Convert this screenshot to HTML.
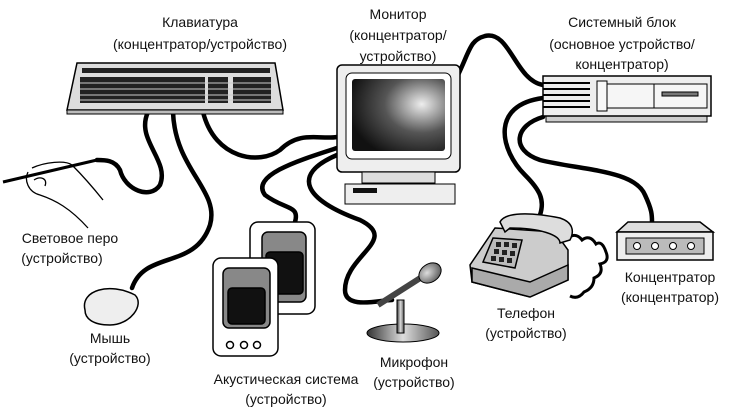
<!DOCTYPE html>
<html><head><meta charset="utf-8"><style>
html,body{margin:0;padding:0;background:#fff;width:733px;height:414px;overflow:hidden}
text{font-family:"Liberation Sans","DejaVu Sans",sans-serif;font-size:14px;fill:#111;text-anchor:middle}
</style></head><body>
<svg width="733" height="414" viewBox="0 0 733 414" xmlns="http://www.w3.org/2000/svg">
<defs>
<radialGradient id="scr" cx="0.75" cy="0.35" r="0.8"><stop offset="0" stop-color="#eee"/><stop offset="0.5" stop-color="#555"/><stop offset="1" stop-color="#111"/></radialGradient>
<radialGradient id="mic" cx="0.4" cy="0.4" r="0.6"><stop offset="0" stop-color="#ddd"/><stop offset="1" stop-color="#666"/></radialGradient>
<linearGradient id="base" x1="0" x2="1"><stop offset="0" stop-color="#333"/><stop offset="0.5" stop-color="#ddd"/><stop offset="1" stop-color="#555"/></linearGradient>
</defs>
<g fill="none" stroke="#000" stroke-width="4.5" stroke-linecap="round">
<path d="M148,112 C135,140 170,160 160,185 C150,200 125,190 120,170 C115,160 105,160 97,160"/>
<path d="M173,112 C175,170 220,190 210,225 C195,270 145,250 132,288"/>
<path d="M203,112 C215,160 260,165 280,150 C300,130 320,140 337,137"/>
<path d="M337,148 C300,160 250,175 265,195 C285,210 300,205 295,222"/>
<path d="M337,155 C290,175 305,200 360,220 C400,240 345,255 345,290 C345,310 380,300 392,300"/>
<path d="M458,75 C470,50 470,40 485,36 C510,30 515,80 543,85"/>
<path d="M543,98 C490,105 500,150 525,175 C540,190 545,200 540,215"/>
<path d="M543,117 C515,125 510,150 540,160 C580,170 635,170 645,195 C652,210 652,215 652,222"/>
</g>
<path d="M568,238 q8,-6 14,2 q8,-6 14,4 q6,-4 10,8 q4,10 -6,12 q4,10 -6,14 q0,10 -10,14 q-6,8 -14,4" fill="none" stroke="#000" stroke-width="3"/>
<!-- keyboard -->
<path d="M77,63 L275,63 L283,110 L67,110 Z" fill="#ddd" stroke="#000" stroke-width="1.5"/>
<path d="M67,110 L283,110 L283,114 L67,114 Z" fill="#bbb" stroke="#000"/>
<rect x="82" y="68" width="188" height="5" fill="#222"/>
<rect x="80" y="77" width="125" height="26" fill="#222"/>
<rect x="208" y="77" width="20" height="26" fill="#222"/>
<rect x="233" y="77" width="38" height="26" fill="#222"/>
<g stroke="#ccc" stroke-width="1"><path d="M80,83 H271 M80,89 H271 M80,95 H271 M80,100 H271"/></g>
<!-- monitor -->
<rect x="337" y="65" width="123" height="107" rx="5" fill="#eee" stroke="#000" stroke-width="1.5"/>
<rect x="346" y="73" width="105" height="86" rx="6" fill="#fff" stroke="#000"/>
<rect x="352" y="79" width="93" height="72" rx="3" fill="url(#scr)"/>
<rect x="362" y="172" width="73" height="11" fill="#ddd" stroke="#000"/>
<rect x="345" y="184" width="110" height="20" fill="#eee" stroke="#000"/>
<rect x="353" y="188" width="24" height="5" fill="#111"/>
<!-- system unit -->
<rect x="546" y="110" width="161" height="12" fill="#ccc" stroke="#000"/>
<rect x="543" y="76" width="168" height="40" fill="#eee" stroke="#000" stroke-width="1.5"/>
<g stroke="#000" stroke-width="2"><path d="M543,83 H590 M543,89 H590 M543,95 H590 M543,101 H590 M543,107 H590"/></g>
<rect x="597" y="81" width="10" height="30" fill="#f8f8f8" stroke="#000"/>
<rect x="607" y="84" width="100" height="24" fill="#f6f6f6" stroke="#000"/>
<line x1="654" y1="84" x2="654" y2="108" stroke="#000"/>
<rect x="662" y="92" width="36" height="4" fill="#777" stroke="#000"/>
<!-- pen hand -->
<path d="M3,182 L97,160" stroke="#000" stroke-width="3"/>
<path d="M32,168 C45,162 65,160 72,165 C85,178 95,190 103,200 M28,172 C24,180 28,192 40,195 C55,200 70,208 88,228 M34,180 C40,176 48,178 45,186" fill="none" stroke="#000" stroke-width="1.3"/>
<!-- mouse -->
<path d="M85,310 C80,290 110,282 135,295 C145,305 130,325 110,325 C92,325 85,318 85,310 Z" fill="#eee" stroke="#000" stroke-width="1.5"/>
<!-- speakers -->
<g stroke="#000" stroke-width="1.5">
<rect x="250" y="222" width="65" height="92" rx="8" fill="#fff"/>
<rect x="262" y="232" width="44" height="70" rx="6" fill="#888"/>
<rect x="266" y="252" width="37" height="42" rx="4" fill="#111"/>
<rect x="213" y="258" width="65" height="98" rx="8" fill="#fff"/>
<rect x="223" y="268" width="47" height="60" rx="6" fill="#888"/>
<rect x="228" y="288" width="37" height="36" rx="4" fill="#111"/>
<circle cx="230" cy="345" r="3.5" fill="#fff"/><circle cx="244" cy="345" r="3.5" fill="#fff"/><circle cx="257" cy="345" r="3.5" fill="#fff"/>
</g>
<!-- mic -->
<ellipse cx="403" cy="333" rx="36" ry="9" fill="url(#base)" stroke="#000"/>
<rect x="397" y="300" width="7" height="33" fill="url(#base)" stroke="#000"/>
<path d="M378,305 L425,275" stroke="#444" stroke-width="6"/>
<ellipse cx="430" cy="273" rx="12" ry="9" transform="rotate(-35 430 273)" fill="url(#mic)" stroke="#000"/>
<!-- phone -->
<g stroke="#000" stroke-width="1.5">
<path d="M495,228 L555,232 L568,250 L568,280 L530,297 L472,282 L470,265 Z" fill="#ccc"/>
<path d="M472,268 L530,282 L568,265 L568,280 L530,297 L472,282 Z" fill="#aaa"/>
<path d="M500,222 C505,212 530,212 560,218 C572,222 575,230 570,240 L560,243 C560,235 540,228 510,228 L505,232 Z" fill="#ddd"/>
<path d="M493,238 L522,240 L515,268 L483,262 Z" fill="#bbb"/>
</g>
<g fill="#222"><rect x="496" y="242" width="5" height="5"/><rect x="504" y="242" width="5" height="5"/><rect x="512" y="243" width="5" height="5"/><rect x="494" y="249" width="5" height="5"/><rect x="502" y="250" width="5" height="5"/><rect x="510" y="251" width="5" height="5"/><rect x="491" y="256" width="5" height="5"/><rect x="499" y="257" width="5" height="5"/><rect x="507" y="258" width="5" height="5"/></g>
<!-- hub -->
<path d="M628,222 L700,222 L713,232 L617,232 Z" fill="#ddd" stroke="#000" stroke-width="1.5"/>
<rect x="617" y="232" width="96" height="28" fill="#eee" stroke="#000" stroke-width="1.5"/>
<rect x="626" y="238" width="78" height="16" fill="#bbb" stroke="#000"/>
<circle cx="637" cy="246" r="3.5" fill="#fff" stroke="#000"/><circle cx="655" cy="246" r="3.5" fill="#fff" stroke="#000"/><circle cx="673" cy="246" r="3.5" fill="#fff" stroke="#000"/><circle cx="691" cy="246" r="3.5" fill="#fff" stroke="#000"/>
<!-- labels -->
<text x="200" y="27">Клавиатура</text>
<text x="200" y="49">(концентратор/устройство)</text>
<text x="398" y="19">Монитор</text>
<text x="398" y="40">(концентратор/</text>
<text x="398" y="61">устройство)</text>
<text x="622" y="27">Системный блок</text>
<text x="622" y="49">(основное устройство/</text>
<text x="622" y="69">концентратор)</text>
<text x="70" y="243">Световое перо</text>
<text x="62" y="263">(устройство)</text>
<text x="110" y="343">Мышь</text>
<text x="110" y="363">(устройство)</text>
<text x="286" y="384">Акустическая система</text>
<text x="286" y="404">(устройство)</text>
<text x="414" y="367">Микрофон</text>
<text x="414" y="387">(устройство)</text>
<text x="526" y="318">Телефон</text>
<text x="526" y="338">(устройство)</text>
<text x="670" y="282">Концентратор</text>
<text x="670" y="302">(концентратор)</text>
</svg>
</body></html>
